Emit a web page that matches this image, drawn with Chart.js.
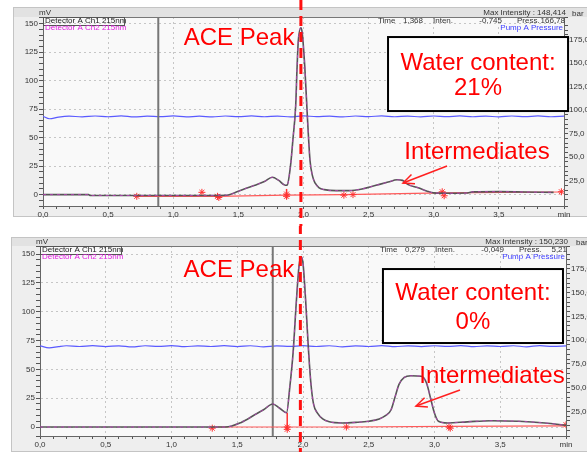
<!DOCTYPE html>
<html><head><meta charset="utf-8">
<script src="https://cdn.jsdelivr.net/npm/chart.js@4.4.1/dist/chart.umd.min.js"></script>
<style>
html,body{margin:0;padding:0;background:#fff;}
#wrap{position:relative;width:587px;height:452px;overflow:hidden;}
.pane{position:absolute;left:0;width:587px;height:226px;}
canvas{display:block;}
</style></head><body>
<div id="wrap">
<div class="pane" style="top:0"><canvas id="c1" width="587" height="226"></canvas></div>
<div class="pane" style="top:226px"><canvas id="c2" width="587" height="226"></canvas></div>
</div>
<script>
// ---------------- DATA ----------------
// Top run (water content 21 %)
const topTime = [0, 0.35, 0.36, 1.0, 1.41, 1.5, 1.56, 1.62, 1.7, 1.76, 1.81, 1.86, 1.875, 1.90, 1.92, 1.94, 1.95, 1.96, 1.98, 1.99, 2.01, 2.03, 2.05, 2.07, 2.09, 2.12, 2.16, 2.25, 2.35, 2.45, 2.55, 2.65, 2.72, 2.76, 2.80, 2.88, 2.95, 3.00, 3.10, 3.25, 3.30, 3.50, 3.70, 3.92];
const topCh1  = [0, 0, -0.8, -0.8, -0.5, 2.9, 5.5, 8, 11.5, 15.2, 12.5, 8.2, 8.5, 25, 50, 78, 110, 135, 146.5, 142, 112, 68, 30, 16, 10, 6, 4.4, 3.5, 3.5, 5, 8, 11, 13, 12.5, 9, 6, 3, 1.5, 1.2, 1.4, 2.4, 2.6, 2.3, 2.0];
const topPressTime = [0, 0.05, 0.12, 0.2, 0.3, 0.4, 0.5, 0.6, 0.7, 0.8, 0.9, 1.0, 1.1, 1.2, 1.3, 1.4, 1.5, 1.6, 1.7, 1.8, 1.9, 2.0, 2.1, 2.2, 2.3, 2.4, 2.5, 2.6, 2.7, 2.8, 2.9, 3.0, 3.1, 3.2, 3.3, 3.4, 3.5, 3.6, 3.7, 3.8, 3.9, 4.0];
const topPress = [93.4, 90.8, 92.6, 93.6, 92.8, 93.7, 92.9, 93.8, 92.7, 93.6, 93.0, 93.8, 92.8, 93.5, 92.7, 93.7, 93.0, 93.8, 92.9, 93.6, 92.8, 93.9, 93.0, 93.6, 92.7, 93.7, 93.1, 93.8, 92.9, 93.6, 92.8, 93.7, 93.0, 93.8, 92.9, 93.6, 92.8, 93.7, 93.0, 93.8, 92.9, 93.5];
const topBaseTime = [0.72, 1.34, 1.87, 2.31, 3.07, 3.98];
const topBaseVal  = [-1.5, -1.5, -0.5, 0, 1.5, 2.3];
const topMarkTime = [0.72, 1.22, 1.34, 1.35, 1.87, 1.87, 2.31, 2.38, 3.065, 3.08, 3.98];
const topMarkVal  = [-1.5, 2, -1.5, -2.5, 0.5, -1.5, -0.5, 0, 2.5, -1, 2.5];
const topDropTime = [1.87, 1.87];
const topDropVal  = [-4, 5];
const topCursorTime = [0.885];
const topInfo = ['148,414', '1,368', '-0,745', '166,78'];
const topWater = ['Water content:', '21%'];

// Bottom run (water content 0 %)
const botTime = [0, 1.0, 1.41, 1.53, 1.63, 1.70, 1.77, 1.82, 1.875, 1.90, 1.925, 1.95, 1.97, 1.985, 2.00, 2.02, 2.04, 2.06, 2.08, 2.11, 2.15, 2.2, 2.3, 2.4, 2.5, 2.58, 2.63, 2.67, 2.70, 2.73, 2.77, 2.82, 2.90, 2.94, 2.97, 3.00, 3.03, 3.10, 3.25, 3.43, 3.64, 3.84, 4.0];
const botCh1  = [0, 0, 0, 4, 10.4, 15, 20, 16.5, 12.4, 35, 65, 110, 140, 148, 142, 110, 70, 38, 20, 12, 7, 4.5, 3.5, 4, 5, 7, 10, 15, 26, 37, 43, 44.5, 44, 38, 25, 12, 5, 3.5, 4.5, 5.5, 5, 3.5, 1.5];
const botPressTime = [0, 0.07, 0.14, 0.2, 0.3, 0.4, 0.5, 0.6, 0.7, 0.8, 0.9, 1.0, 1.1, 1.2, 1.3, 1.4, 1.5, 1.6, 1.7, 1.8, 1.9, 2.0, 2.1, 2.2, 2.3, 2.4, 2.5, 2.6, 2.7, 2.8, 2.9, 3.0, 3.1, 3.2, 3.3, 3.4, 3.5, 3.6, 3.7, 3.8, 3.9, 4.0];
const botPress = [94.0, 91.8, 93.2, 94.1, 93.3, 94.2, 93.2, 94.0, 92.9, 94.1, 93.4, 94.2, 93.1, 94.0, 93.3, 94.2, 93.2, 94.1, 93.0, 94.0, 93.4, 94.2, 93.3, 94.1, 93.0, 94.0, 93.3, 94.2, 93.1, 94.0, 93.2, 94.1, 93.4, 94.2, 93.1, 94.0, 93.3, 94.1, 93.0, 94.2, 93.4, 94.0];
const botBaseTime = [1.31, 1.88, 2.33, 3.11, 4.0];
const botBaseVal  = [0, 0, 0, 0.5, 1];
const botMarkTime = [1.31, 1.88, 1.88, 2.33, 3.11, 3.12, 4.0];
const botMarkVal  = [-1, 0, -2, 0, 0, -1, 2];
const botDropTime = [1.88, 1.88];
const botDropVal  = [-2, 12.4];
const botCursorTime = [1.77];
const botInfo = ['150,230', '0,279', '-0,049', '5,21'];
const botWater = ['Water content:', '0%'];

const aceTime = [1.98];
const xTickLastLabel = 'min';
// ---------------------------------------

const FONT = '"Liberation Sans", Arial, sans-serif';
Chart.defaults.font.family = FONT;
const pts = (xs, ys) => xs.map((x, i) => ({x: x, y: ys[i]}));
const isMajor = (v, s) => Math.abs(v / s - Math.round(v / s)) < 1e-6;
const fmt1 = v => v.toFixed(1).replace('.', ',');

function arrow(ctx, x1, y1, x2, y2) {
  ctx.beginPath(); ctx.moveTo(x1, y1); ctx.lineTo(x2, y2); ctx.stroke();
  const ang = Math.atan2(y1 - y2, x1 - x2), L = 12;
  ctx.beginPath();
  ctx.moveTo(x2 + L * Math.cos(ang - 0.42), y2 + L * Math.sin(ang - 0.42));
  ctx.lineTo(x2, y2);
  ctx.lineTo(x2 + L * Math.cos(ang + 0.42), y2 + L * Math.sin(ang + 0.42));
  ctx.stroke();
}

function build(id, d, g, ann) {
  const deco = {
    id: 'deco' + id,
    beforeDraw(chart) {
      const {ctx, chartArea: a, width} = chart;
      ctx.save();
      ctx.fillStyle = '#ffffff'; ctx.fillRect(0, 0, width, chart.height);
      ctx.fillStyle = '#eeeeee'; ctx.fillRect(g.fx, g.fy, width - g.fx, g.fb - g.fy);
      ctx.fillStyle = '#e2e2e2'; ctx.fillRect(g.fx, g.fy, width - g.fx, a.top - g.fy);
      ctx.strokeStyle = '#c4c4c4'; ctx.lineWidth = 1;
      ctx.strokeRect(g.fx + 0.5, g.fy + 0.5, width - g.fx, g.fb - g.fy - 1);
      ctx.fillStyle = '#f9f9f9'; ctx.fillRect(a.left, a.top, a.right - a.left, a.bottom - a.top);
      ctx.restore();
    },
    afterDatasetsDraw(chart) {
      const {ctx, chartArea: a} = chart;
      const X = v => chart.scales.x.getPixelForValue(v);
      const Y = v => chart.scales.y.getPixelForValue(v);
      ctx.save();
      ctx.strokeStyle = '#777'; ctx.lineWidth = 1;
      ctx.beginPath(); ctx.moveTo(a.left, a.top + 0.5); ctx.lineTo(a.right, a.top + 0.5); ctx.stroke();
      ctx.font = '8px ' + FONT; ctx.textBaseline = 'middle';
      ctx.fillStyle = '#333';
      ctx.textAlign = 'left'; ctx.fillText('mV', a.left - 4, a.top - 4);
      ctx.textAlign = 'right'; ctx.fillText('Max Intensity : ' + d.info[0], a.right + 2, a.top - 4);
      ctx.textAlign = 'left'; ctx.fillText('bar', a.right + g.barDx, a.top - 3);
      const iy = a.top + 4;
      ctx.textAlign = 'left'; ctx.fillText('Time', a.right - 186, iy);
      ctx.textAlign = 'right'; ctx.fillText(d.info[1], a.right - 141, iy);
      ctx.textAlign = 'left'; ctx.fillText('Inten.', a.right - 131, iy);
      ctx.textAlign = 'right'; ctx.fillText(d.info[2], a.right - 62, iy);
      ctx.textAlign = 'left'; ctx.fillText('Press.', a.right - 47, iy);
      ctx.textAlign = 'right'; ctx.fillText(d.info[3], a.right + 1, iy);
      ctx.fillStyle = '#3c3cff'; ctx.textAlign = 'right';
      ctx.fillText('Pump A Pressure', a.right - 1, a.top + 11);
      ctx.textAlign = 'left'; ctx.fillStyle = '#222';
      ctx.fillText('Detector A Ch1 215nm', a.left + 2, a.top + 4);
      ctx.strokeStyle = '#555'; ctx.strokeRect(a.left + 0.5, a.top + 0.5, 81, 8);
      ctx.fillStyle = '#e020e0';
      ctx.fillText('Detector A Ch2 215nm', a.left + 2, a.top + 11);
      ctx.fillStyle = '#ff0000'; ctx.font = '24px ' + FONT;
      ctx.textAlign = 'center'; ctx.textBaseline = 'middle';
      ctx.fillText('ACE Peak', X(ann.ace[0]), Y(ann.ace[1]));
      const bx1 = X(ann.box[0]), bx2 = X(ann.box[1]), by1 = Y(ann.box[2]), by2 = Y(ann.box[3]);
      ctx.fillStyle = '#ffffff'; ctx.fillRect(bx1, by1, bx2 - bx1, by2 - by1);
      ctx.strokeStyle = '#000'; ctx.lineWidth = 2; ctx.strokeRect(bx1, by1, bx2 - bx1, by2 - by1);
      ctx.fillStyle = '#ff0000';
      ctx.fillText(d.water[0], (bx1 + bx2) / 2, Y(ann.line1));
      ctx.fillText(d.water[1], (bx1 + bx2) / 2, Y(ann.line2));
      ctx.fillText('Intermediates', X(ann.inter[0]), Y(ann.inter[1]));
      ctx.strokeStyle = '#ff2020'; ctx.lineWidth = 1.5;
      arrow(ctx, X(ann.arrow[0]), Y(ann.arrow[1]), X(ann.arrow[2]), Y(ann.arrow[3]));
      ctx.restore();
    },
    afterDraw(chart) {
      const {ctx} = chart;
      const x = chart.scales.x.getPixelForValue(aceTime[0]);
      ctx.save();
      ctx.strokeStyle = '#ff1010'; ctx.lineWidth = 3;
      ctx.setLineDash([10, 6]); ctx.lineDashOffset = g.dashOffset;
      ctx.beginPath(); ctx.moveTo(x, 0); ctx.lineTo(x, chart.height); ctx.stroke();
      ctx.restore();
    }
  };

  return new Chart(document.getElementById(id), {
    type: 'line',
    data: {datasets: [
      {label: 'Detector A Ch2 215nm', data: pts(d.t, d.v), borderColor: 'rgba(205,60,205,0.7)', borderWidth: 1, borderDash: [3, 4], pointRadius: 0, cubicInterpolationMode: 'monotone', order: 1},
      {label: 'Detector A Ch1 215nm', data: pts(d.t, d.v), borderColor: '#555555', borderWidth: 1.6, pointRadius: 0, cubicInterpolationMode: 'monotone', order: 2},
      {label: 'marks', data: pts(d.mt, d.mv), showLine: false, pointStyle: 'star', pointRadius: 3.5, borderColor: '#ff3030', backgroundColor: '#ff3030', borderWidth: 1, order: 3},
      {label: 'drop', data: pts(d.dt, d.dv), borderColor: '#ff3030', borderWidth: 1.5, pointRadius: 0, order: 4},
      {label: 'baseline', data: pts(d.bt, d.bv), borderColor: '#ff5a5a', borderWidth: 1.2, pointRadius: 0, order: 5},
      {label: 'cursor', data: [{x: d.cursor[0], y: g.yMin}, {x: d.cursor[0], y: g.yMax}], borderColor: '#777', borderWidth: 2, pointRadius: 0, order: 6},
      {label: 'Pump A Pressure', data: pts(d.pt, d.pv), yAxisID: 'y1', borderColor: '#5a5aff', borderWidth: 1.2, pointRadius: 0, cubicInterpolationMode: 'monotone', order: 7}
    ]},
    options: {
      responsive: false, animation: false, devicePixelRatio: 1, events: [],
      layout: {padding: {top: g.padTop, left: 0, right: 0, bottom: 0}},
      plugins: {legend: {display: false}, tooltip: {enabled: false}},
      scales: {
        x: {type: 'linear', min: 0, max: 4,
          afterFit: s => { s.height = g.xH; },
          ticks: {stepSize: 0.1, autoSkip: false, maxRotation: 0, maxTicksLimit: 100, padding: 1, color: '#333', font: {size: 8},
            callback: v => isMajor(v, 0.5) ? (Math.abs(v - 4) < 1e-6 ? xTickLastLabel : fmt1(v)) : ''},
          grid: {color: c => (c.tick && isMajor(c.tick.value, 0.5)) ? '#c6c6c6' : 'rgba(0,0,0,0)', tickColor: '#555', tickLength: 3},
          border: {color: '#666', width: 1, dash: [2, 3]}},
        y: {position: 'left', min: g.yMin, max: g.yMax,
          afterFit: s => { s.width = g.yW; },
          ticks: {stepSize: 5, autoSkip: false, maxTicksLimit: 100, padding: 1, color: '#333', font: {size: 8},
            callback: v => isMajor(v, 25) ? String(Math.round(v)) : ''},
          grid: {color: c => (c.tick && isMajor(c.tick.value, 25)) ? '#c6c6c6' : 'rgba(0,0,0,0)', tickColor: '#555', tickLength: 4},
          border: {color: '#666', width: 1, dash: [2, 3]}},
        y1: {position: 'right', min: g.y1Min, max: g.y1Max,
          afterFit: s => { s.width = g.y1W; },
          ticks: {stepSize: 5, autoSkip: false, maxTicksLimit: 100, padding: 1, color: '#333', font: {size: 8},
            callback: v => (isMajor(v, 25) && v >= 0) ? fmt1(v) : ''},
          grid: {drawOnChartArea: false, tickColor: '#555', tickLength: 4},
          border: {color: '#666', width: 1}}
      }
    },
    plugins: [deco]
  });
}

build('c1',
  {t: topTime, v: topCh1, pt: topPressTime, pv: topPress, bt: topBaseTime, bv: topBaseVal,
   mt: topMarkTime, mv: topMarkVal, dt: topDropTime, dv: topDropVal, cursor: topCursorTime,
   info: topInfo, water: topWater},
  {padTop: 17, yW: 43, y1W: 23, xH: 20, yMin: -10, yMax: 156, y1Min: -2, y1Max: 199,
   fx: 13, fy: 7, fb: 217, barDx: 8, dashOffset: 0},
  {ace: [1.505, 137], box: [2.649, 4.031, 138.4, 73.4], line1: 115.6, line2: 93.6,
   inter: [3.332, 37.4], arrow: [3.102, 25.1, 2.764, 10.2]});

build('c2',
  {t: botTime, v: botCh1, pt: botPressTime, pv: botPress, bt: botBaseTime, bv: botBaseVal,
   mt: botMarkTime, mv: botMarkVal, dt: botDropTime, dv: botDropVal, cursor: botCursorTime,
   info: botInfo, water: botWater},
  {padTop: 20, yW: 40, y1W: 21, xH: 16, yMin: -7.8, yMax: 157.1, y1Min: -1, y1Max: 199.2,
   fx: 11, fy: 11, fb: 226, barDx: 10, dashOffset: 226},
  {ace: [1.513, 136.3], box: [2.608, 3.977, 137.1, 72.9], line1: 116.3, line2: 91.1,
   inter: [3.437, 44.3], arrow: [3.194, 32.1, 2.859, 18.2]});
</script>
</body></html>
